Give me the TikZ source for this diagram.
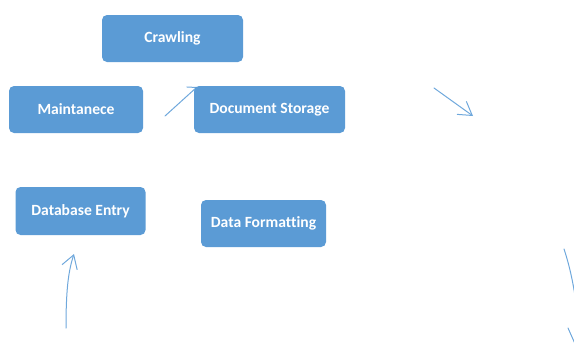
\documentclass[tikz,border=0pt]{standalone}
\usepackage{fontspec}
\setmainfont[Ligatures=NoCommon]{Carlito}
\usetikzlibrary{arrows.meta}
\definecolor{boxblue}{HTML}{5B9BD5}
\definecolor{penblue}{HTML}{6FA8DC}
\tikzset{
  stepbox/.style={fill=boxblue, draw=none, rounded corners=5pt, inner sep=0pt,
    text=white, font=\bfseries\fontsize{15.6}{18}\selectfont},
  pen/.style={draw=penblue, line width=1pt, line cap=round},
  barb/.style={-{Straight Barb[length=13pt,width=16pt,line width=1pt]}},
  smallbarb/.style={-{Straight Barb[length=7pt,width=14pt,line width=1pt]}}
}
\begin{document}
\begin{tikzpicture}[x=1pt,y=-1pt]
\useasboundingbox (0,0) rectangle (574,343);
\clip (0,0) rectangle (574,343);

% free-hand connectors (drawn first so the boxes cover their ends)
\coordinate (s1) at (165,116);
\coordinate (t1) at (197,87);
\draw[pen,smallbarb] (s1) -- (t1);

\coordinate (s2) at (434,88);
\coordinate (t2) at (473,116);
\draw[pen,barb] (s2) -- (t2);

\coordinate (s3) at (66,328);
\coordinate (t3) at (74,254);
\draw[pen,barb] (s3) .. controls (66,292) and (68,272) .. (t3);

\coordinate (s4) at (564,249);
\coordinate (t4) at (578,318);
\draw[pen] (s4) .. controls (571,270) and (575,292) .. (t4);
\coordinate (s5) at (568,328);
\coordinate (t5) at (576,346);
\draw[pen] (s5) -- (t5);

% process boxes
\node[stepbox, minimum width=141pt, minimum height=47pt] (crawl) at (172.5,38.5) {Crawling};
\node[stepbox, minimum width=134pt, minimum height=47pt] (maint) at (76,109.5) {Maintanece};
\node[stepbox, minimum width=151pt, minimum height=47pt] (store) at (269.5,109.5) {Document Storage};
\node[stepbox, minimum width=130pt, minimum height=48pt] (dbentry) at (80.5,211) {Database Entry};
\node[stepbox, minimum width=125pt, minimum height=47pt] (format) at (263.5,223.5) {Data Formatting};
\end{tikzpicture}
\end{document}
